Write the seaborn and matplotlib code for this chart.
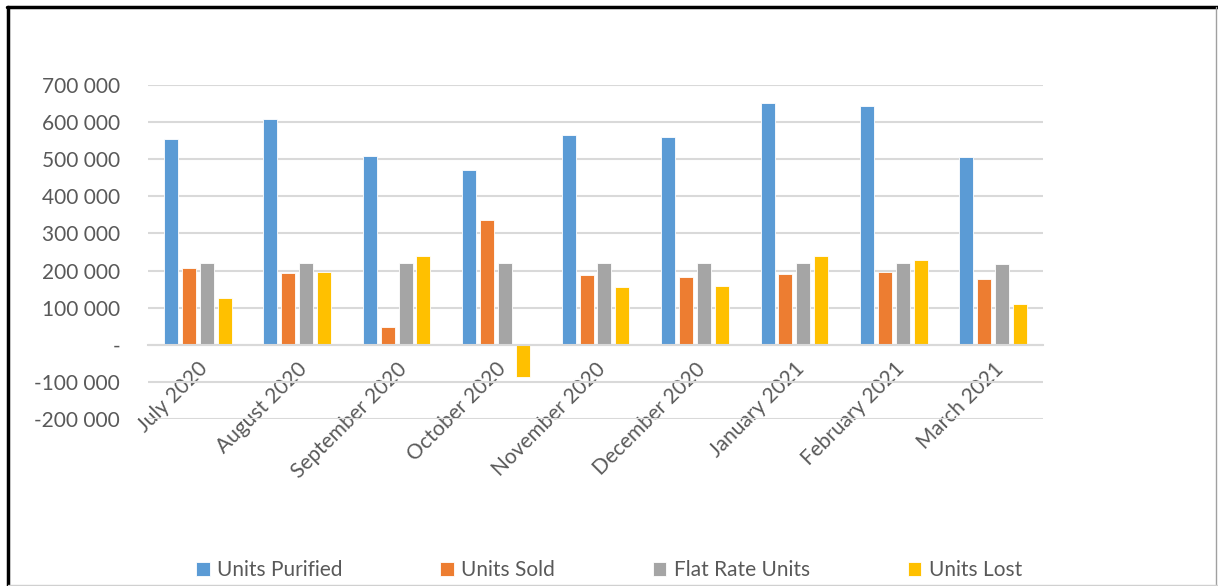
import matplotlib
matplotlib.use("Agg")
import matplotlib.pyplot as plt
import matplotlib.ticker as mticker
from matplotlib.lines import Line2D
import seaborn as sns
import pandas as pd

months = ["July 2020", "August 2020", "September 2020", "October 2020", "November 2020",
          "December 2020", "January 2021", "February 2021", "March 2021"]
units_purified = [554000, 609000, 509000, 470000, 565000, 561000, 651000, 643000, 506000]
units_sold = [207000, 193000, 48000, 335000, 188000, 183000, 192000, 196000, 178000]
flat_rate_units = [220000, 220000, 220000, 220000, 220000, 220000, 220000, 220000, 219000]
units_lost = [127000, 196000, 239000, -88000, 155000, 159000, 239000, 228000, 109000]
series_names = ["Units Purified", "Units Sold", "Flat Rate Units", "Units Lost"]
colors = ["#5B9BD5", "#ED7D31", "#A5A5A5", "#FFC000"]

rows = []
for name, vals in zip(series_names, [units_purified, units_sold, flat_rate_units, units_lost]):
    for m, v in zip(months, vals):
        rows.append({"Month": m, "Series": name, "Value": v})
df = pd.DataFrame(rows)

sns.set_theme(style="white")
plt.rcParams["font.family"] = ["Lato", "DejaVu Sans"]
TXT = "#595959"

fig = plt.figure(figsize=(12.18, 5.86), dpi=100)
ax = fig.add_axes([148/1218, 1-419/586, (1043-148)/1218, (419-85)/586])

sns.barplot(data=df, x="Month", y="Value", hue="Series", order=months, hue_order=series_names,
            palette=colors, width=0.72, gap=0.22, edgecolor="white", linewidth=0.6,
            saturation=1, ax=ax, legend=True)

ax.set_ylim(-200000, 700000)
ax.set_xlim(-0.5, len(months) - 0.5)
ax.yaxis.set_major_locator(mticker.MultipleLocator(100000))

def fmt(v, pos):
    if abs(v) < 1:
        return "-"
    s = f"{int(abs(v)):,}".replace(",", " ")
    return ("-" if v < 0 else "") + s
ax.yaxis.set_major_formatter(mticker.FuncFormatter(fmt))

ax.grid(axis="y", color="#D9D9D9", linewidth=1.5)
ax.set_axisbelow(True)
for s in ["top", "right", "left"]:
    ax.spines[s].set_visible(False)
ax.spines["bottom"].set_position(("data", 0))
ax.spines["bottom"].set_color("#D9D9D9")
ax.spines["bottom"].set_linewidth(1.5)
ax.tick_params(axis="y", length=0, pad=20, labelsize=15, labelcolor=TXT)
ax.tick_params(axis="x", length=0, pad=10, labelsize=15, labelcolor=TXT)
ax.set_xlabel("")
ax.set_ylabel("")
for lab in ax.get_xticklabels():
    lab.set_rotation(45)
    lab.set_ha("right")
    lab.set_rotation_mode("anchor")

handles, labels = ax.get_legend_handles_labels()
ax.get_legend().remove()
fig.legend(handles, labels, loc="center", bbox_to_anchor=(0.5, 1-570/586), ncol=4,
           frameon=False, fontsize=15, labelcolor=TXT, handlelength=0.65, handleheight=0.65,
           handletextpad=0.35, columnspacing=4.7)

# outer frame
fig.add_artist(Line2D([7/1218, 1], [1-7/586, 1-7/586], transform=fig.transFigure, color="black", lw=2.5))
fig.add_artist(Line2D([8/1218, 8/1218], [0, 1-7/586], transform=fig.transFigure, color="black", lw=2.5))
fig.add_artist(Line2D([1216/1218, 1216/1218], [0, 1-7/586], transform=fig.transFigure, color="#A0A0A0", lw=1))
fig.add_artist(Line2D([8/1218, 1], [1/586, 1/586], transform=fig.transFigure, color="#D0D0D0", lw=1))

fig.savefig("out.png", dpi=100, facecolor="white")
